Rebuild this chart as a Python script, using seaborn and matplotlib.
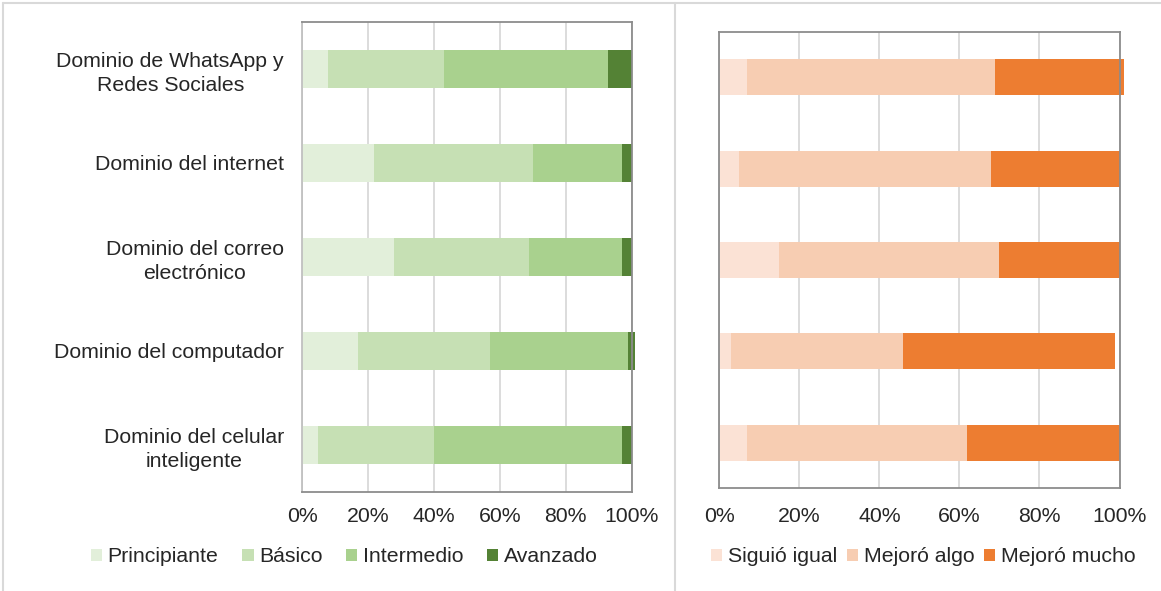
import matplotlib
matplotlib.use("Agg")
import matplotlib.pyplot as plt
import seaborn as sns
import pandas as pd
from matplotlib.patches import Patch
from matplotlib.lines import Line2D

# Categories shown on the vertical axis (top to bottom)
categorias = [
    "Dominio de WhatsApp y\nRedes Sociales",
    "Dominio del internet",
    "Dominio del correo\nelectrónico",
    "Dominio del computador",
    "Dominio del celular\ninteligente",
]

# Left chart: skill level (%)
niveles = ["Principiante", "Básico", "Intermedio", "Avanzado"]
principiante = [8, 22, 28, 17, 5]
basico = [35, 48, 41, 40, 35]
intermedio = [50, 27, 28, 42, 57]
avanzado = [7, 3, 3, 2, 3]
colores_niveles = ["#E2EFDA", "#C6E0B4", "#A9D18E", "#548235"]

# Right chart: change after the course (%)
cambios = ["Siguió igual", "Mejoró algo", "Mejoró mucho"]
siguio_igual = [7, 5, 15, 3, 7]
mejoro_algo = [62, 63, 55, 43, 55]
mejoro_mucho = [32, 32, 30, 53, 38]
colores_cambios = ["#FBE2D5", "#F7CDB2", "#ED7D31"]

x_ticks = [0, 20, 40, 60, 80, 100]
x_labels = ["0%", "20%", "40%", "60%", "80%", "100%"]

sns.set_style("white")
plt.rcParams["font.family"] = ["Liberation Sans", "DejaVu Sans"]
FS = 15.3

W, H = 1161, 591
fig = plt.figure(figsize=(W / 100, H / 100), dpi=100)


def px_axes(x0, y0, x1, y1):
    return fig.add_axes([x0 / W, 1 - y1 / H, (x1 - x0) / W, (y1 - y0) / H])


def stacked(ax, series, names, colors, width):
    df = pd.DataFrame(dict(zip(names, series)))
    df["cat"] = categorias
    cum = df[names].cumsum(axis=1)
    # draw cumulative totals from the longest to the shortest so each
    # segment shows its own colour
    for name, color in reversed(list(zip(names, colors))):
        sns.barplot(x=cum[name].values, y=df["cat"], orient="h", color=color,
                    saturation=1, width=width, linewidth=0, ax=ax)
    for p in ax.patches:
        p.set_clip_on(False)
    ax.set_xlim(0, 100)
    ax.set_ylim(4.5, -0.5)
    ax.set_xticks(x_ticks)
    ax.set_xticklabels(x_labels, fontsize=FS)
    ax.set_xlabel("")
    ax.set_ylabel("")
    ax.grid(axis="x", color="#D9D9D9", linewidth=1.3)
    ax.grid(axis="y", visible=False)
    ax.set_axisbelow(True)
    ax.tick_params(axis="both", length=0)
    for s in ax.spines.values():
        s.set_visible(True)
        s.set_color("#8C8C8C")
        s.set_linewidth(1.3)


ax1 = px_axes(302, 21.7, 631.5, 491.7)
stacked(ax1, [principiante, basico, intermedio, avanzado], niveles, colores_niveles, 0.40)
ax1.spines["left"].set_color("#C0C0C0")
ax1.tick_params(axis="y", pad=13)
ax1.tick_params(axis="x", pad=11)
for t in ax1.get_yticklabels():
    t.set_fontsize(FS)
    t.set_multialignment("center")
    t.set_linespacing(1.37)

ax2 = px_axes(719.3, 31.7, 1119.5, 488.2)
stacked(ax2, [siguio_igual, mejoro_algo, mejoro_mucho], cambios, colores_cambios, 0.395)
ax2.tick_params(axis="y", labelleft=False)
ax2.tick_params(axis="x", pad=13.5)

# Legends below each chart
h1 = [Patch(facecolor=c, edgecolor="none") for c in colores_niveles]
fig.legend(h1, niveles, loc="center", bbox_to_anchor=(344 / W, 1 - 557 / H),
           ncol=4, frameon=False, fontsize=FS, handlelength=0.55, handleheight=0.55,
           handletextpad=0.25, columnspacing=1.1)
h2 = [Patch(facecolor=c, edgecolor="none") for c in colores_cambios]
fig.legend(h2, cambios, loc="center", bbox_to_anchor=(923 / W, 1 - 557 / H),
           ncol=3, frameon=False, fontsize=FS, handlelength=0.55, handleheight=0.55,
           handletextpad=0.25, columnspacing=0.45)

# Light frames around the two chart panels
frame = dict(color="#D9D9D9", linewidth=1.5, transform=fig.transFigure)
fig.add_artist(Line2D([3 / W, 1], [1 - 3 / H, 1 - 3 / H], **frame))
fig.add_artist(Line2D([3 / W, 3 / W], [0, 1 - 3 / H], **frame))
fig.add_artist(Line2D([675 / W, 675 / W], [0, 1 - 3 / H], **frame))

fig.savefig("out.png", dpi=100, facecolor="white")
